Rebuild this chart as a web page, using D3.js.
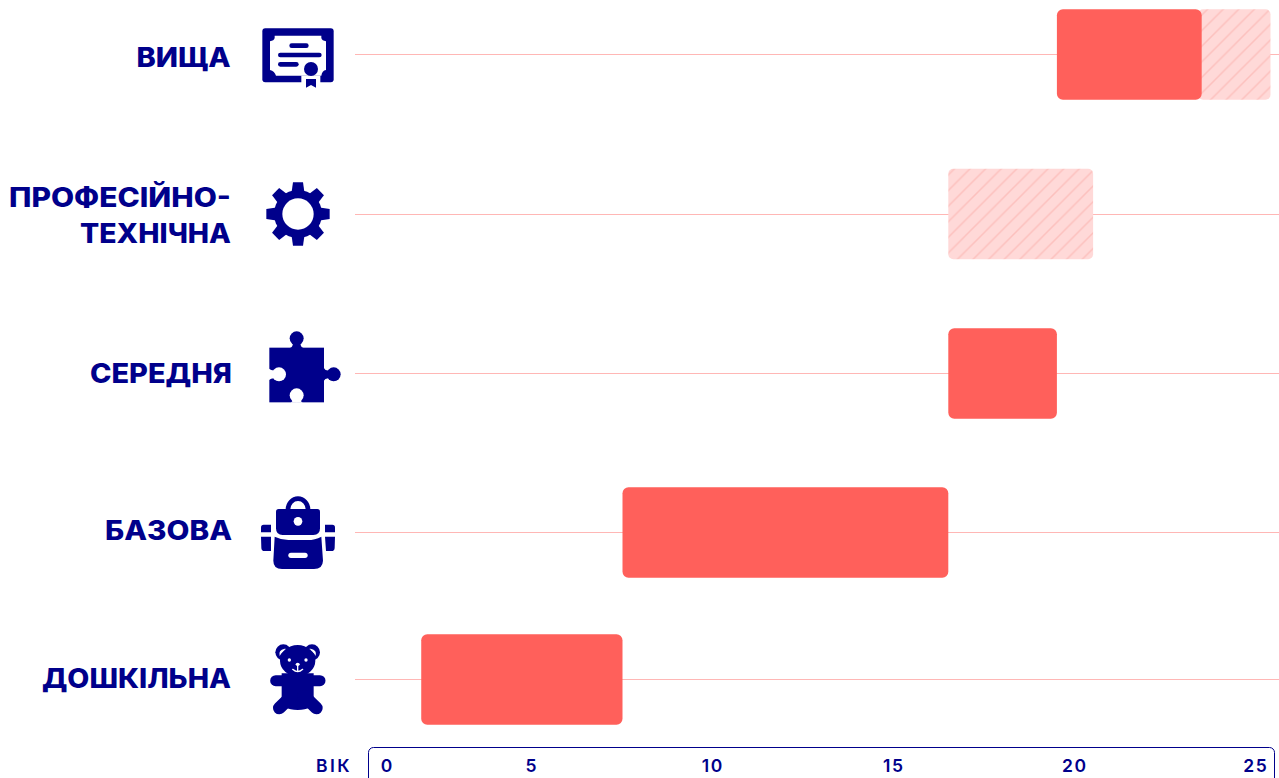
<!DOCTYPE html>
<html><head><meta charset="utf-8">
<script src="https://cdnjs.cloudflare.com/ajax/libs/d3/7.8.5/d3.min.js"></script>
<style>
html,body{margin:0;padding:0;background:#fff;overflow:hidden}
svg{display:block}
text{font-family:Inter,"Noto Sans",sans-serif;fill:#00008b}
.lab{font-weight:800;font-size:27px;text-anchor:end}
.tick text,.vik{font-weight:600;font-size:17.5px;letter-spacing:1.5px}
.vik{letter-spacing:2.4px}
</style></head><body>
<svg id="c" width="1279" height="778"></svg>
<script>
const categories=["ВИЩА","ПРОФЕСІЙНО-ТЕХНІЧНА","СЕРЕДНЯ","БАЗОВА","ДОШКІЛЬНА"];
const labelLines=[["ВИЩА"],["ПРОФЕСІЙНО-","ТЕХНІЧНА"],["СЕРЕДНЯ"],["БАЗОВА"],["ДОШКІЛЬНА"]];
const solidStart=[19.5,null,16.5,7.5,1.94];
const solidEnd=[23.5,null,19.5,16.5,7.5];
const hatchStart=[23.4,16.5,null,null,null];
const hatchEnd=[25.4,20.5,null,null,null];
const tickValues=[0,5,10,15,20,25];

const NAVY="#00008b",RED="#ff605b";
const svg=d3.select("#c");
const x=d3.scaleLinear().domain([0,25]).range([351,1256]);
const y=d3.scaleOrdinal().domain(categories).range([54.5,214,373.5,532.5,679.5]);
const barH=90.5;

const defs=svg.append("defs");
const p=defs.append("pattern").attr("id","hatch").attr("patternUnits","userSpaceOnUse")
 .attr("width",15.6).attr("height",15.6);
p.append("rect").attr("width",15.6).attr("height",15.6).attr("fill","#ffd9d8");
p.append("path").attr("d","M-2,2L2,-2M0,15.6L15.6,0M13.6,17.6L17.6,13.6").attr("stroke","#fdc0bd").attr("stroke-width",1.4);

// row rules
svg.append("g").selectAll("line").data(categories).join("line")
 .attr("x1",355).attr("x2",1279).attr("y1",d=>Math.floor(y(d))+.5).attr("y2",d=>Math.floor(y(d))+.5)
 .attr("stroke",RED).attr("stroke-opacity",.45);

// hatched bars
const hRows=categories.map((c,i)=>({c,s:hatchStart[i],e:hatchEnd[i]})).filter(d=>d.s!=null);
svg.append("g").selectAll("rect").data(hRows).join("rect")
 .attr("x",d=>x(d.s)).attr("width",d=>x(d.e)-x(d.s))
 .attr("y",d=>y(d.c)-barH/2).attr("height",barH).attr("rx",5).attr("fill","url(#hatch)");
// solid bars
const sRows=categories.map((c,i)=>({c,s:solidStart[i],e:solidEnd[i]})).filter(d=>d.s!=null);
svg.append("g").selectAll("rect").data(sRows).join("rect")
 .attr("x",d=>x(d.s)).attr("width",d=>x(d.e)-x(d.s))
 .attr("y",d=>y(d.c)-barH/2).attr("height",barH).attr("rx",6).attr("fill",RED);

// labels: [line, right edge, baseline, rendered width]
[["ВИЩА",230.5,67,94],["ПРОФЕСІЙНО-",231,207,222],["ТЕХНІЧНА",231,243,151],
 ["СЕРЕДНЯ",232,383,142],["БАЗОВА",232,540,127],["ДОШКІЛЬНА",231,688,189]].forEach(l=>{
  svg.append("text").attr("class","lab").attr("x",l[1]).attr("y",l[2])
   .attr("textLength",l[3]).attr("lengthAdjust","spacingAndGlyphs").text(l[0]);
});

// axis
svg.append("rect").attr("x",368.5).attr("y",747.5).attr("width",906).attr("height",60).attr("rx",5)
 .attr("fill","none").attr("stroke",NAVY).attr("stroke-width",1);
const ax=svg.append("g").attr("transform","translate(-.7,753)")
 .call(d3.axisBottom(x).tickValues(tickValues).tickSize(0).tickFormat(d3.format("d")));
ax.select(".domain").remove();
ax.selectAll("text").attr("y",0).attr("dy","19px").attr("fill",NAVY);
ax.selectAll(".tick").filter(d=>d===0).select("text").attr("dx","36.5px");
svg.append("text").attr("class","vik").attr("x",352).attr("y",772).attr("text-anchor","end").text("ВІК");

// icons, drawn in 3x crop units
function icon(ox,oy){return svg.append("g").attr("transform",`translate(${ox},${oy}) scale(${1/3})`).attr("fill",NAVY);}
// diploma
{const g=icon(240,10);
 g.append("rect").attr("x",67).attr("y",55).attr("width",214).attr("height",162).attr("rx",9);
 g.append("path").attr("fill","#fff").attr("d","M104,77H244V84Q246,92 258,94V180Q246,182 244,197H108Q104,184 90,180V94Q102,92 104,84Z");
 g.append("rect").attr("x",184).attr("y",197).attr("width",57).attr("height",24).attr("fill","#fff");
 [[148,206,107],[114,245,135],[114,176,163]].forEach(a=>g.append("line").attr("x1",a[0]+7).attr("x2",a[1]-7).attr("y1",a[2]).attr("y2",a[2]).attr("stroke",NAVY).attr("stroke-width",14).attr("stroke-linecap","round"));
 g.append("circle").attr("cx",213).attr("cy",177).attr("r",21);
 g.append("path").attr("d","M198,207H228V233L213,225L198,233Z");
}
// gear
{const g=icon(240,10).append("g").attr("transform","translate(174,612)");
 d3.range(8).forEach(i=>g.append("path").attr("transform",`rotate(${i*45})`).attr("d","M-20,-60L-15,-95H15L20,-60Z"));
 g.append("circle").attr("r",72);
 g.append("circle").attr("r",47).attr("fill","#fff");
}
// puzzle
{const g=icon(240,320);
 g.append("rect").attr("x",88).attr("y",83).attr("width",164).attr("height",164);
 g.append("circle").attr("cx",170).attr("cy",55).attr("r",21);
 g.append("path").attr("d","M158,68H182Q180,80 190,84H150Q160,80 158,68Z");
 g.append("circle").attr("cx",281).attr("cy",163).attr("r",21);
 g.append("path").attr("d","M268,151V175Q256,173 251,183V143Q256,153 268,151Z");
 g.append("circle").attr("cx",117).attr("cy",163).attr("r",21).attr("fill","#fff");
 g.append("path").attr("fill","#fff").attr("d","M104,151V175Q94,174 87,180V146Q94,152 104,151Z");
 g.append("circle").attr("cx",170).attr("cy",226).attr("r",21).attr("fill","#fff");
 g.append("path").attr("fill","#fff").attr("d","M158,238H182Q180,244 188,248H152Q160,244 158,238Z");
}
// backpack
{const g=icon(240,320);
 g.append("path").attr("d","M137,568A37,39 0 0 1 211,568H197A23,25 0 0 0 151,568Z");
 g.append("path").attr("d","M116,567H232Q240,567 240,575V625Q240,645 220,645H128Q108,645 108,625V575Q108,567 116,567Z");
 g.append("circle").attr("cx",174).attr("cy",604).attr("r",13).attr("fill","#fff");
 g.append("path").attr("d","M104,650Q125,660 145,660H203Q225,660 244,650L249,722Q248,747 222,747H126Q100,747 100,722Z");
 g.append("rect").attr("x",145).attr("y",698).attr("width",58).attr("height",16).attr("rx",8).attr("fill","#fff");
 g.append("path").attr("d","M71,614H93V637H63V622Q63,614 71,614Z");
 g.append("path").attr("d","M63,650H93V693H74Q64,693 64,683Z");
 g.append("path").attr("d","M255,614H277Q285,614 285,622V637H255Z");
 g.append("path").attr("d","M255,650H285L284,683Q284,693 274,693H258Z");
}
// bear
{const g=icon(240,630);
 g.append("circle").attr("cx",130).attr("cy",67).attr("r",24);
 g.append("circle").attr("cx",216).attr("cy",67).attr("r",24);
 g.append("path").attr("fill","#fff").attr("d","M119,78Q114,60 134,56Q142,56 143,60Q128,62 119,78Z");
 g.append("path").attr("fill","#fff").attr("d","M227,78Q232,60 212,56Q204,56 203,60Q218,62 227,78Z");
 g.append("ellipse").attr("cx",173).attr("cy",92).attr("rx",53).attr("ry",47);
 g.append("circle").attr("cx",148).attr("cy",90).attr("r",5).attr("fill","#fff");
 g.append("circle").attr("cx",198).attr("cy",90).attr("r",5).attr("fill","#fff");
 g.append("ellipse").attr("cx",173).attr("cy",103).attr("rx",6).attr("ry",5).attr("fill","#fff");
 g.append("path").attr("d","M173,105V122M158,118Q173,132 188,118").attr("fill","none").attr("stroke","#fff").attr("stroke-width",4).attr("stroke-linecap","round");
 g.append("line").attr("x1",107).attr("x2",240).attr("y1",152).attr("y2",152).attr("stroke",NAVY).attr("stroke-width",33).attr("stroke-linecap","round");
 g.append("path").attr("d","M125,130H221V210Q221,239 173,240Q125,239 125,210Z");
 g.append("line").attr("x1",118).attr("y1",234).attr("x2",155).attr("y2",198).attr("stroke",NAVY).attr("stroke-width",38).attr("stroke-linecap","round");
 g.append("line").attr("x1",229).attr("y1",234).attr("x2",192).attr("y2",198).attr("stroke",NAVY).attr("stroke-width",38).attr("stroke-linecap","round");
}
</script>
</body></html>
